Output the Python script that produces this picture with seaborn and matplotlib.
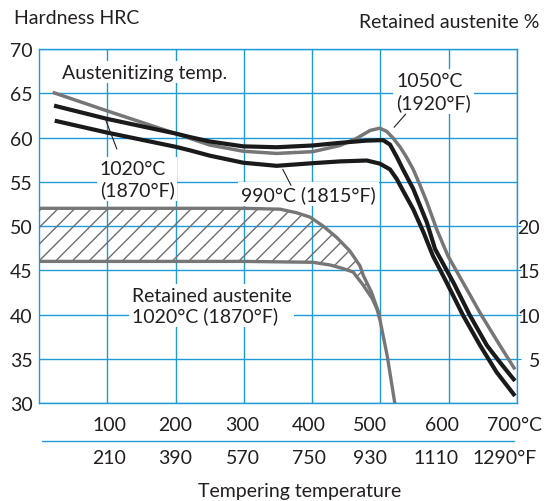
""" Hardness and retained austenite vs tempering temperature. """
import numpy as np
import pandas as pd
import seaborn as sns
import matplotlib.pyplot as plt
from matplotlib.transforms import blended_transform_factory

sns.set_style("white")
plt.rcParams['font.family'] = ['Lato', 'DejaVu Sans']
plt.rcParams['hatch.linewidth'] = 1.0

BLUE = '#1e9ad6'
INK = '#231f20'
GREY = '#767676'

# hardness curves, tempering temp in C -> HRC
temp_1050 = [20, 100, 200, 221, 250, 299, 348, 401, 441, 465, 485, 499, 509, 519, 529,
             538, 548, 558, 568, 582, 599, 621, 648, 675, 697]
hrc_1050 = [65.1, 63.0, 60.45, 59.9, 59.15, 58.45, 58.2, 58.4, 59.1, 59.9, 60.8, 61.05, 60.7,
            59.9, 58.9, 57.8, 56.4, 54.6, 52.7, 49.7, 46.6, 43.6, 39.9, 36.5, 33.8]

temp_1020 = [22, 100, 200, 221, 250, 299, 348, 401, 441, 480, 504, 514, 524, 533, 548,
             568, 580, 607, 631, 656, 675, 697]
hrc_1020 = [63.6, 62.1, 60.45, 60.05, 59.55, 59.0, 58.9, 59.1, 59.4, 59.65, 59.7, 59.2, 57.8,
            56.4, 54.2, 50.4, 47.4, 43.6, 39.9, 36.5, 34.6, 32.5]

temp_990 = [23, 100, 200, 221, 250, 299, 348, 401, 441, 480, 499, 514, 524, 533, 548,
            563, 577, 597, 621, 646, 670, 697]
hrc_990 = [61.9, 60.55, 58.95, 58.55, 57.95, 57.15, 56.8, 57.1, 57.3, 57.4, 57.05, 56.4, 55.3,
           54.0, 51.9, 49.3, 46.6, 43.6, 39.9, 36.5, 33.5, 30.8]

# retained austenite band (%), 1020 C
ra_temp_top = [0, 100, 200, 300, 353, 377, 397, 416, 436, 455, 470, 475, 487, 497, 499]
ra_top = [22.0, 22.0, 22.0, 22.0, 21.9, 21.5, 21.0, 20.0, 18.7, 17.2, 15.5, 14.4, 12.5, 10.3, 9.5]
ra_temp_bot = [0, 100, 200, 300, 401, 426, 445, 460, 474, 488, 495, 499, 510, 521]
ra_bot = [16.0, 16.0, 16.0, 16.0, 15.9, 15.6, 15.2, 14.8, 13.4, 11.8, 10.6, 9.5, 5.3, 0.0]

c_ticks = [100, 200, 300, 400, 500, 600, 700]
c_labels = ['100', '200', '300', '400', '500', '600', '700°C']
f_labels = ['210', '390', '570', '750', '930', '1110', '1290°F']
c_label_x = [103, 200, 298, 395, 485, 590, 696]
f_label_x = [103, 200, 298, 395, 485, 581, 682]

hard = pd.concat([
    pd.DataFrame({'temp': temp_1050, 'hrc': hrc_1050, 'aust': '1050'}),
    pd.DataFrame({'temp': temp_1020, 'hrc': hrc_1020, 'aust': '1020'}),
    pd.DataFrame({'temp': temp_990, 'hrc': hrc_990, 'aust': '990'}),
])

fig = plt.figure(figsize=(5.52, 5.02), dpi=100)
ax = fig.add_axes([0.0707, 0.1952, 0.8659, 0.7052])
ax.set_axisbelow(True)

sns.lineplot(data=hard, x='temp', y='hrc', hue='aust', sort=False, estimator=None,
             palette={'1050': GREY, '1020': '#1a1a1a', '990': '#1a1a1a'},
             linewidth=3.0, legend=False, ax=ax, zorder=2)
for ln in ax.get_lines():
    ln.set_solid_capstyle('butt')
    ln.set_solid_joinstyle('round')
    if ln.get_color() == GREY:
        ln.set_linewidth(2.5)

ax.set_xlim(0, 700)
ax.set_ylim(30, 70)
ax.set_xticks(c_ticks)
ax.set_xticklabels([])
ax.set_yticks(range(30, 71, 5))
ax.grid(True, color=BLUE, linewidth=1.0)
ax.tick_params(axis='both', length=0)
ax.tick_params(axis='y', pad=4.5, labelsize=14, labelcolor=INK)
ax.set_xlabel('')
ax.set_ylabel('')
for sp in ax.spines.values():
    sp.set_color(BLUE)
    sp.set_linewidth(1.0)

# retained austenite on the right axis (0 % at HRC 30)
ax2 = ax.twinx()
ax2.set_ylim(0, 40)
band_x = ra_temp_top + ra_temp_bot[::-1]
band_y = ra_top + ra_bot[::-1]
ax2.fill(band_x, band_y, facecolor='none', edgecolor='#6e6e6e', hatch='//', linewidth=0)
sns.lineplot(x=ra_temp_top, y=ra_top, sort=False, estimator=None, color=GREY,
             linewidth=2.4, ax=ax2)
sns.lineplot(x=ra_temp_bot, y=ra_bot, sort=False, estimator=None, color=GREY,
             linewidth=2.4, ax=ax2)
ax2.set_yticks([5, 10, 15, 20])
ax2.tick_params(axis='y', length=3, color=BLUE, pad=13.5, labelsize=14, labelcolor=INK)
for lab in ax2.get_yticklabels():
    lab.set_horizontalalignment('right')
for sp in ax2.spines.values():
    sp.set_visible(False)
ax2.set_ylabel('')

# labels on the plot
box = dict(facecolor='white', edgecolor='none', pad=2)
ax.text(34, 67.4, 'Austenitizing temp.', fontsize=14, color=INK, ha='left', va='center',
        bbox=box, zorder=1.5)
ax.text(89, 55.3, '1020°C\n(1870°F)', fontsize=14, color=INK, ha='left', va='center',
        linespacing=1.25, bbox=box, zorder=1.5)
ax.text(296, 53.6, '990°C (1815°F)', fontsize=14, color=INK, ha='left', va='center',
        bbox=box, zorder=1.5)
ax.text(523, 65.2, '1050°C\n(1920°F)', fontsize=14, color=INK, ha='left', va='center',
        linespacing=1.25, bbox=box, zorder=1.5)
ax.text(136, 41.0, 'Retained austenite\n1020°C (1870°F)', fontsize=14, color=INK,
        ha='left', va='center', linespacing=1.2, bbox=box, zorder=1.5)

# leader lines
ax.plot([98, 114], [61.9, 58.7], color=INK, linewidth=0.8, zorder=2.5)
ax.plot([357, 369], [56.4, 54.6], color=INK, linewidth=0.8, zorder=2.5)
ax.plot([520, 537], [61.15, 62.65], color=INK, linewidth=0.8, zorder=2.5)

# double temperature scale below the axes
trans = blended_transform_factory(ax.transData, ax.transAxes)
for xp, lab in zip(c_label_x, c_labels):
    ax.text(xp, -0.062, lab, transform=trans, fontsize=14, color=INK, ha='center', va='center')
for xp, lab in zip(f_label_x, f_labels):
    ax.text(xp, -0.155, lab, transform=trans, fontsize=14, color=INK, ha='center', va='center')
ax.plot([0.006, 0.994], [-0.107, -0.107], transform=ax.transAxes, color=BLUE,
        linewidth=1.0, clip_on=False)
ax.text(381, -0.246, 'Tempering temperature', transform=trans, fontsize=14, color=INK,
        ha='center', va='center')

fig.text(14 / 552, 1 - 19 / 502, 'Hardness HRC', fontsize=14, color=INK, ha='left', va='center')
fig.text(539 / 552, 1 - 22 / 502, 'Retained austenite %', fontsize=14, color=INK,
         ha='right', va='center')

fig.savefig('out.png', dpi=100)
